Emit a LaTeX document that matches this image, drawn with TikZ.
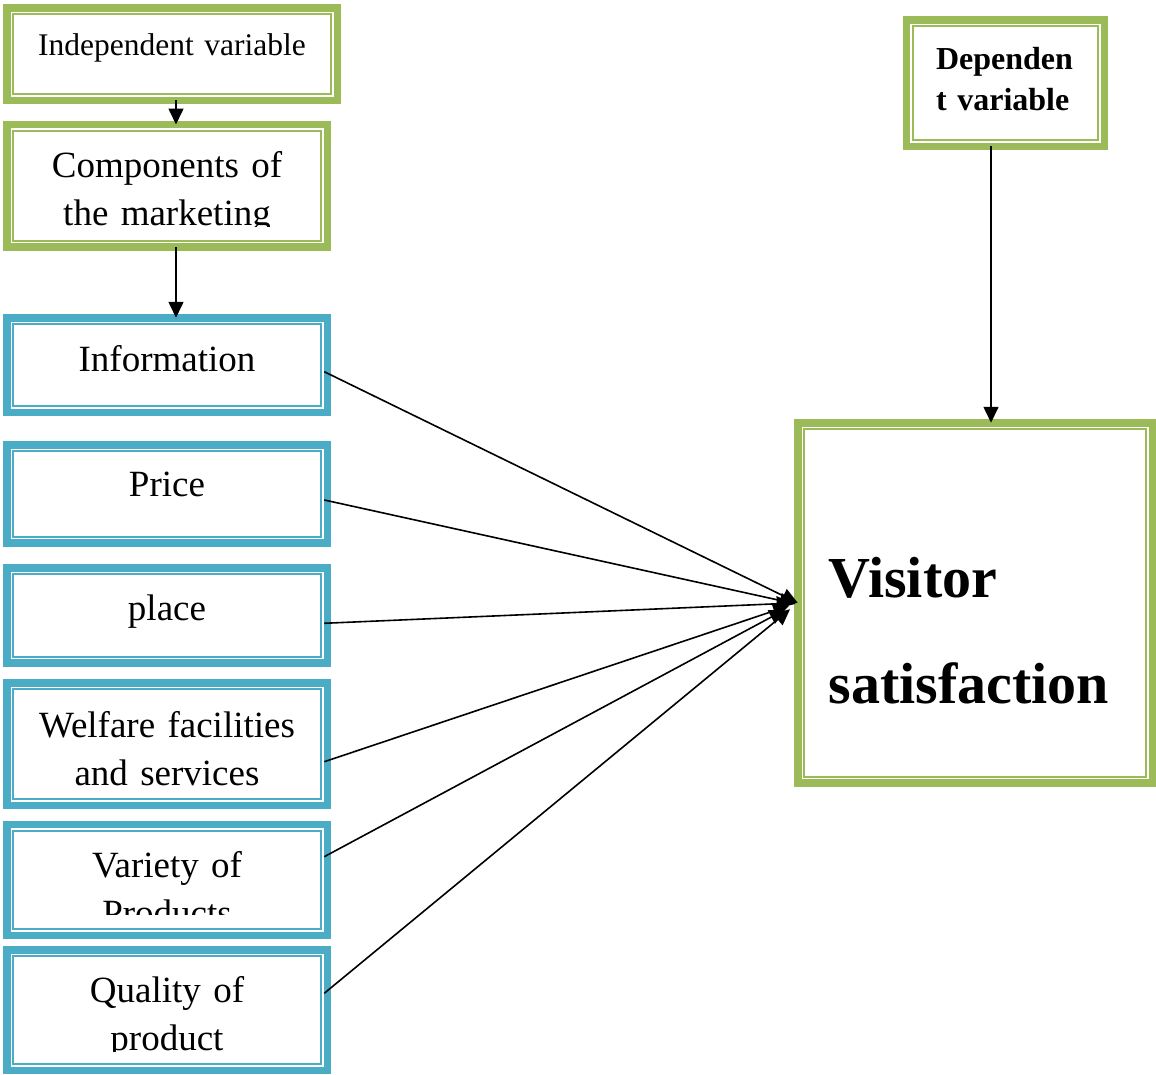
\documentclass[tikz,border=0pt]{standalone}
\usepackage{fontspec}
\setmainfont{Liberation Serif}
\usetikzlibrary{arrows.meta}

\definecolor{vgreen}{RGB}{155,187,89}
\definecolor{vblue}{RGB}{75,172,198}

\tikzset{
  dbox/.style={draw=#1, line width=7.5pt, fill=white, anchor=north west,
               inner sep=0pt, outer sep=0pt, align=center,
               path picture={\draw[-, #1, line width=2pt]
                 ([xshift=6.25pt,yshift=-6.25pt]path picture bounding box.north west) rectangle
                 ([xshift=-6.25pt,yshift=6.25pt]path picture bounding box.south east);}},
  gbox/.style={dbox=vgreen},
  bbox/.style={dbox=vblue, text width=320.5pt, font=\fontsize{37}{48.5}\selectfont},
}

\begin{document}
\begin{tikzpicture}[->,>={Triangle[length=16pt,width=15pt]},x=1pt,y=-1pt,
                    line width=1.6pt]
  \useasboundingbox (0,0) rectangle (1156,1074);

  % left column
  \node[gbox, text width=330.5pt, text height=47.25pt, text depth=45.25pt,
        font=\fontsize{31.5}{40}\selectfont] (ind) at (6.75,7.75) {Independent variable};
  \node[gbox, text width=320.5pt, text height=52.5pt, text depth=70pt,
        font=\fontsize{37}{48.5}\selectfont] (comp) at (6.75,124.5) {Components of\\the marketing};

  \node[bbox, text height=53.25pt, text depth=41.25pt] (info)    at (6.75,317.75) {Information};
  \node[bbox, text height=51.25pt, text depth=47pt]    (price)   at (6.75,444.75) {Price};
  \node[bbox, text height=53pt,    text depth=42.25pt] (place)   at (6.75,567.75) {place};
  \node[bbox, text height=54pt,    text depth=68.25pt] (welfare) at (6.75,683)    {Welfare facilities\\and services};
  \node[bbox, text height=52.5pt,  text depth=58.5pt]  (variety) at (6.75,824.5)  {Variety of\\Products};
  \node[bbox, text height=52.25pt, text depth=68.25pt] (quality) at (6.75,949.75) {Quality of\\product};

  % right side
  \node[gbox, align=left, inner xsep=29.5pt, text width=139pt, text height=49.5pt, text depth=77pt,
        font=\bfseries\fontsize{32}{41}\selectfont] (dep) at (906.5,19.75) {Dependen\\t variable};
  \node[gbox, align=left, inner xsep=30.75pt, text width=293pt, text height=174.5pt, text depth=185.75pt,
        font=\bfseries\fontsize{58}{106}\selectfont] (vs) at (797.75,422.75) {Visitor\\satisfaction};

  % text cut off at the bottom of the boxes
  \fill[-, white] ([xshift=7.5pt,yshift=7.5pt]comp.south west) rectangle ([xshift=-7.5pt,yshift=20pt]comp.south east);
  \fill[-, white] ([xshift=7.5pt,yshift=7.5pt]variety.south west) rectangle ([xshift=-7.5pt,yshift=20.5pt]variety.south east);
  \fill[-, white] ([xshift=7.5pt,yshift=7.5pt]quality.south west) rectangle ([xshift=-7.5pt,yshift=18.5pt]quality.south east);

  \path ([xshift=4pt]ind.south)  edge ([xshift=9pt]comp.north)
        ([xshift=9pt]comp.south) edge ([xshift=9pt]info.north)
        ([xshift=-14.5pt]dep.south) edge ([xshift=16pt]vs.north);

  \path ([xshift=-3pt,yshift=-6.7pt]info.east)     edge (vs.west)
        ([xshift=-3pt,yshift=-6.1pt]price.east)    edge ([shift={(-2,1)}]vs.west)
        ([xshift=-3pt,yshift=-7.9pt]place.east)    edge [shorten >=5pt]  (vs.west)
        ([xshift=-3pt,yshift=-17.6pt]welfare.east) edge [shorten >=9pt]  (vs.west)
        ([xshift=-3pt,yshift=23.3pt]variety.east)  edge [shorten >=14pt] (vs.west)
        ([xshift=-3pt,yshift=16.7pt]quality.east)  edge [shorten >=10pt] (vs.west);
\end{tikzpicture}
\end{document}
